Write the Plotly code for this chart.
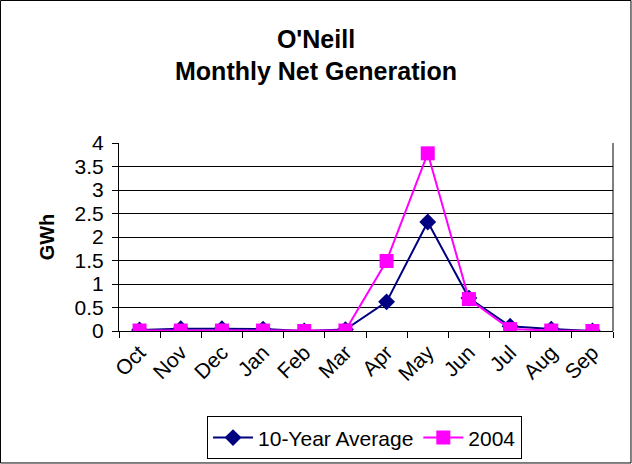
import plotly.graph_objects as go

months = ["Oct", "Nov", "Dec", "Jan", "Feb", "Mar", "Apr", "May", "Jun", "Jul", "Aug", "Sep"]
avg_10yr = [0.02, 0.05, 0.05, 0.04, 0.0, 0.03, 0.62, 2.32, 0.70, 0.10, 0.04, 0.0]
y2004 = [0.01, 0.01, 0.01, 0.01, 0.0, 0.01, 1.49, 3.78, 0.68, 0.04, 0.01, 0.0]

FONT = "Liberation Sans, Arial, sans-serif"

fig = go.Figure()
fig.add_trace(go.Scatter(x=months, y=avg_10yr, name="10-Year Average", mode="lines+markers",
                         line=dict(color="#000080", width=2),
                         marker=dict(symbol="diamond", size=13, color="#000080")))
fig.add_trace(go.Scatter(x=months, y=y2004, name="2004", mode="lines+markers",
                         line=dict(color="#ff00ff", width=2),
                         marker=dict(symbol="square", size=14, color="#ff00ff")))

# outer chart border
fig.add_shape(type="rect", xref="paper", yref="paper",
              x0=-0.2399, x1=1.0364, y0=-0.702, y1=1.758,
              line=dict(color="black", width=1))

fig.update_layout(
    width=632, height=464,
    margin=dict(l=119, r=19, t=143, b=133, autoexpand=False),
    paper_bgcolor="white", plot_bgcolor="white",
    font=dict(family=FONT, color="black", size=20),
    title=dict(text="<b>O'Neill<br>Monthly Net Generation</b>", x=0.5, xref="container",
               y=0.897, yref="container", yanchor="middle",
               font=dict(size=25, family=FONT)),
    showlegend=True,
    legend=dict(orientation="h", x=0.497, xanchor="center", y=-0.569, yanchor="middle",
                bordercolor="black", borderwidth=1, font=dict(size=21, family=FONT),
                itemwidth=40, tracegroupgap=0),
)
fig.update_xaxes(type="category", range=[-0.5, 11.5], tickangle=-45, automargin=False,
                 ticks="outside", tickson="boundaries", ticklen=6, tickcolor="black",
                 showline=True, linecolor="black", linewidth=1, mirror=False,
                 showgrid=False, tickfont=dict(size=21))
fig.update_yaxes(range=[0, 4], dtick=0.5, ticks="outside", ticklen=6, tickcolor="black",
                 automargin=False, ticklabelstandoff=4,
                 showline=True, linecolor="black", linewidth=1,
                 showgrid=True, gridcolor="black", gridwidth=1, zeroline=False,
                 title=dict(text="<b>GWh</b>", font=dict(size=20), standoff=14),
                 tickfont=dict(size=21))
# right border of plot area
fig.add_shape(type="line", xref="paper", yref="paper", x0=1, x1=1, y0=0, y1=1,
              line=dict(color="black", width=1))

fig.write_html("out.html", config={"displayModeBar": False},
               post_script="document.body.style.margin='0';")
